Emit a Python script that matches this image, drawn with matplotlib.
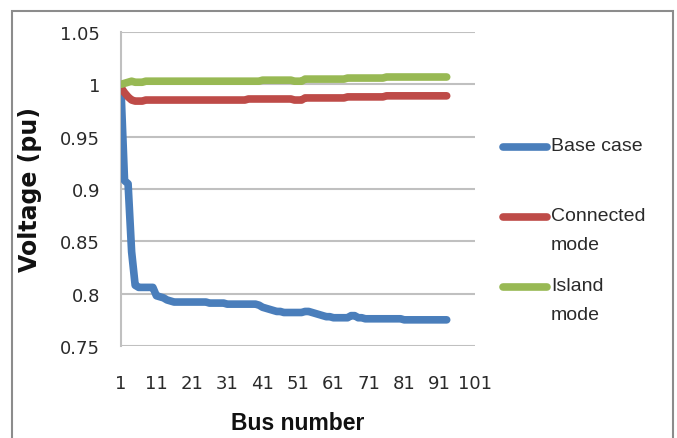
import matplotlib
matplotlib.use("Agg")
import matplotlib.pyplot as plt
from matplotlib.lines import Line2D
from matplotlib.patches import Rectangle

plt.rcParams['font.family'] = ['DejaVu Sans']

bus = list(range(1, 94))
base_case = [
    0.995, 0.908, 0.905, 0.840, 0.808, 0.806, 0.806, 0.806, 0.806, 0.806,
    0.798, 0.797, 0.796, 0.794, 0.793, 0.792, 0.792, 0.792, 0.792, 0.792,
    0.792, 0.792, 0.792, 0.792, 0.792, 0.791, 0.791, 0.791, 0.791, 0.791,
    0.790, 0.790, 0.790, 0.790, 0.790, 0.790, 0.790, 0.790, 0.790, 0.789,
    0.787, 0.786, 0.785, 0.784, 0.783, 0.783, 0.782, 0.782, 0.782, 0.782,
    0.782, 0.782, 0.783, 0.783, 0.782, 0.781, 0.780, 0.779, 0.778, 0.778,
    0.777, 0.777, 0.777, 0.777, 0.777, 0.779, 0.779, 0.777, 0.777, 0.776,
    0.776, 0.776, 0.776, 0.776, 0.776, 0.776, 0.776, 0.776, 0.776, 0.776,
    0.775, 0.775, 0.775, 0.775, 0.775, 0.775, 0.775, 0.775, 0.775, 0.775,
    0.775, 0.775, 0.775,
]
connected_mode = [
    0.997, 0.992, 0.988, 0.985, 0.984, 0.984, 0.984, 0.985, 0.985, 0.985,
    0.985, 0.985, 0.985, 0.985, 0.985, 0.985, 0.985, 0.985, 0.985, 0.985,
    0.985, 0.985, 0.985, 0.985, 0.985, 0.985, 0.985, 0.985, 0.985, 0.985,
    0.985, 0.985, 0.985, 0.985, 0.985, 0.985, 0.986, 0.986, 0.986, 0.986,
    0.986, 0.986, 0.986, 0.986, 0.986, 0.986, 0.986, 0.986, 0.986, 0.985,
    0.985, 0.985, 0.987, 0.987, 0.987, 0.987, 0.987, 0.987, 0.987, 0.987,
    0.987, 0.987, 0.987, 0.987, 0.988, 0.988, 0.988, 0.988, 0.988, 0.988,
    0.988, 0.988, 0.988, 0.988, 0.988, 0.989, 0.989, 0.989, 0.989, 0.989,
    0.989, 0.989, 0.989, 0.989, 0.989, 0.989, 0.989, 0.989, 0.989, 0.989,
    0.989, 0.989, 0.989,
]
island_mode = [
    1.000, 1.001, 1.002, 1.003, 1.002, 1.002, 1.002, 1.003, 1.003, 1.003,
    1.003, 1.003, 1.003, 1.003, 1.003, 1.003, 1.003, 1.003, 1.003, 1.003,
    1.003, 1.003, 1.003, 1.003, 1.003, 1.003, 1.003, 1.003, 1.003, 1.003,
    1.003, 1.003, 1.003, 1.003, 1.003, 1.003, 1.003, 1.003, 1.003, 1.003,
    1.004, 1.004, 1.004, 1.004, 1.004, 1.004, 1.004, 1.004, 1.004, 1.003,
    1.003, 1.003, 1.005, 1.005, 1.005, 1.005, 1.005, 1.005, 1.005, 1.005,
    1.005, 1.005, 1.005, 1.005, 1.006, 1.006, 1.006, 1.006, 1.006, 1.006,
    1.006, 1.006, 1.006, 1.006, 1.006, 1.007, 1.007, 1.007, 1.007, 1.007,
    1.007, 1.007, 1.007, 1.007, 1.007, 1.007, 1.007, 1.007, 1.007, 1.007,
    1.007, 1.007, 1.007,
]
series_names = ["Base case", "Connected\nmode", "Island\nmode"]
x_ticks = [1, 11, 21, 31, 41, 51, 61, 71, 81, 91, 101]
y_ticks = [0.75, 0.8, 0.85, 0.9, 0.95, 1.0, 1.05]
y_tick_labels = ["0.75", "0.8", "0.85", "0.9", "0.95", "1", "1.05"]

colors = ["#4A7EBB", "#BE4B48", "#98B954"]

W, H = 677, 439
fig = plt.figure(figsize=(W / 100, H / 100), dpi=100)
ax = fig.add_axes([121 / W, 1 - 347 / H, 354 / W, 314 / H])

for vals, c in zip([base_case, connected_mode, island_mode], colors):
    ax.plot(bus, vals, color=c, lw=5.5, solid_capstyle='round',
            solid_joinstyle='round', zorder=3)

ax.set_xlim(1, 101)
ax.set_ylim(0.75, 1.05)
ax.set_xticks(x_ticks)
ax.set_yticks(y_ticks)
ax.set_yticklabels(y_tick_labels)
ax.grid(axis='y', color='#C0C0C0', lw=1.5)
ax.set_axisbelow(True)
for s in ['top', 'right', 'bottom']:
    ax.spines[s].set_visible(False)
ax.spines['left'].set_color('#C0C0C0')
ax.spines['left'].set_linewidth(1.5)
ax.tick_params(length=0, labelsize=13, colors='#2A2A2A')
ax.tick_params(axis='x', pad=20)
ax.tick_params(axis='y', pad=15)

ax.set_xlabel("Bus number", fontsize=16.5, fontweight='bold',
              family=['Liberation Sans', 'DejaVu Sans'], labelpad=14,
              color='#111111')
ax.set_ylabel("Voltage (pu)", fontsize=17, fontweight='bold',
              labelpad=13, color='#111111')

# legend (manual)
handle_y = [148, 218, 288]
for name, c, yy in zip(series_names, colors, handle_y):
    fig.add_artist(Line2D([503 / W, 547 / W], [1 - yy / H, 1 - yy / H],
                          color=c, lw=5.5, solid_capstyle='round',
                          transform=fig.transFigure))
    fig.text(551 / W, 1 - (yy - 10) / H, name, fontsize=14, va='top',
             ha='left', color='#2A2A2A', linespacing=1.95,
             family=['Liberation Sans', 'DejaVu Sans'])

# outer frame
fig.add_artist(Rectangle((12 / W, -0.05), 661 / W, 1.05 - 12 / H,
                         transform=fig.transFigure, fill=False,
                         edgecolor='#8C8C8C', lw=1.5))

fig.savefig("out.png", dpi=100)
